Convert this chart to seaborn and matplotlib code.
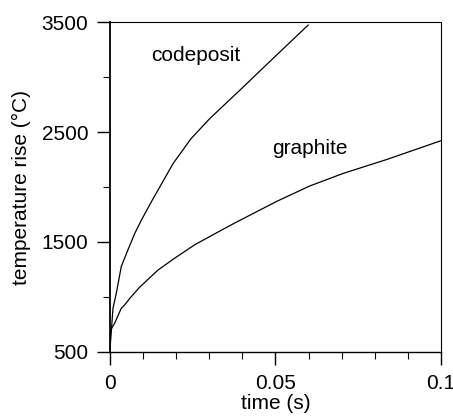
import numpy as np
import pandas as pd
import matplotlib
matplotlib.use("Agg")
import matplotlib.pyplot as plt
from matplotlib.ticker import MultipleLocator, FixedLocator
import seaborn as sns

# values
codeposit_t = [0.0, 0.0009, 0.0019, 0.0034, 0.0054, 0.0075, 0.0095, 0.0128,
               0.0191, 0.0245, 0.0302, 0.0393, 0.0493, 0.0599]
codeposit_T = [520, 897, 1033, 1276, 1427, 1579, 1700, 1882,
               2215, 2440, 2624, 2882, 3170, 3473]

graphite_t = [0.0, 0.0002, 0.0014, 0.0034, 0.0044, 0.006, 0.009, 0.0145, 0.0195,
              0.0256, 0.0326, 0.0372, 0.0504, 0.0604, 0.0705, 0.0836, 0.1]
graphite_T = [560, 700, 761, 897, 927, 988, 1090, 1245, 1352,
              1475, 1590, 1665, 1870, 2010, 2124, 2250, 2421]

df = pd.concat([
    pd.DataFrame({'time': codeposit_t, 'rise': codeposit_T, 'material': 'codeposit'}),
    pd.DataFrame({'time': graphite_t, 'rise': graphite_T, 'material': 'graphite'}),
])

sns.set_style("ticks")
plt.rcParams['font.family'] = ['Liberation Sans', 'DejaVu Sans']
plt.rcParams['text.color'] = 'black'
plt.rcParams['axes.labelcolor'] = 'black'

fig = plt.figure(figsize=(4.53, 4.17), dpi=100)
ax = fig.add_axes([0.2428, 0.1559, 0.7307, 0.7913])

sns.lineplot(data=df, x='time', y='rise', units='material', estimator=None,
             color='black', linewidth=0.9, sort=False, ax=ax, legend=False)

ax.set_xlim(0, 0.1)
ax.set_ylim(500, 3500)
ax.xaxis.set_major_locator(FixedLocator([0, 0.05, 0.1]))
ax.set_xticklabels(['0', '0.05', '0.1'])
ax.xaxis.set_minor_locator(MultipleLocator(0.01))
ax.yaxis.set_major_locator(FixedLocator([500, 1500, 2500, 3500]))
ax.yaxis.set_minor_locator(FixedLocator([1000, 2000, 3000]))

ax.tick_params(which='major', direction='out', length=9.5, width=1.0,
               labelsize=15, pad=6, colors='black')
ax.tick_params(which='minor', direction='out', length=5, width=0.8, colors='black')

for s in ax.spines.values():
    s.set_visible(True)
    s.set_color('black')
    s.set_linewidth(0.8)
ax.spines['left'].set_linewidth(1.3)
ax.spines['bottom'].set_linewidth(1.0)

ax.set_xlabel('time (s)', fontsize=15, labelpad=1)
ax.set_ylabel('temperature rise (°C)', fontsize=15, labelpad=8)

ax.text(0.0125, 3200, 'codeposit', fontsize=15, va='center', ha='left')
ax.text(0.0490, 2350, 'graphite', fontsize=15, va='center', ha='left')

fig.savefig('out.png', dpi=100)
